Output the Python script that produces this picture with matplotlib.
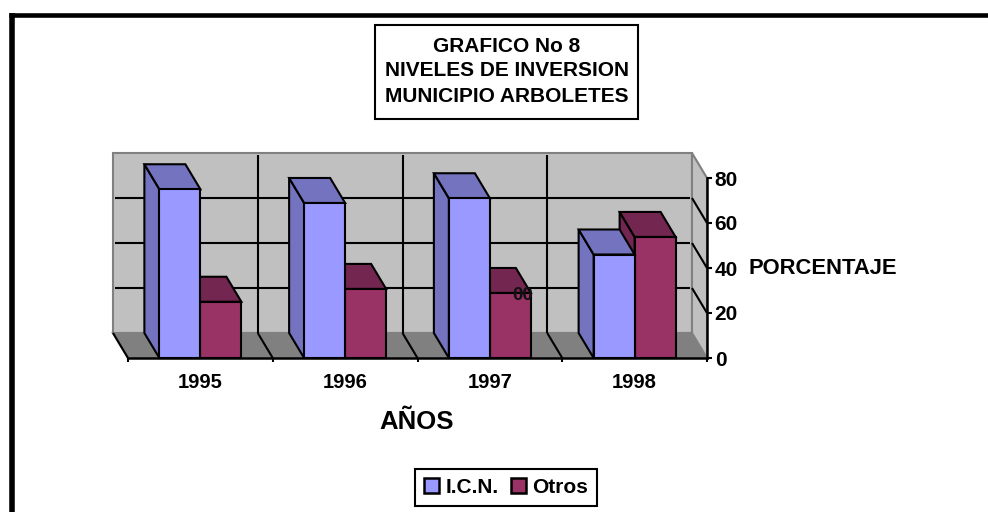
import matplotlib
matplotlib.use("Agg")
import matplotlib.pyplot as plt
from matplotlib.lines import Line2D
from matplotlib.patches import Polygon, Rectangle, Patch

plt.rcParams['font.family'] = ['Liberation Sans', 'DejaVu Sans']
plt.rcParams['font.weight'] = 'bold'

years = ['1995', '1996', '1997', '1998']
icn = [75, 68.9, 71, 46]
otros = [25, 30.7, 28.9, 53.8]
yticks = [0, 20, 40, 60, 80]

W, H = 988, 512
fig = plt.figure(figsize=(W / 100, H / 100), dpi=100, facecolor='white')


def fx(px):
    return px / W


def fy(py):
    return 1 - py / H


ax = fig.add_axes([fx(128), fy(358), fx(707) - fx(128), fy(178) - fy(358)])
ax.set_xlim(-0.5, 3.5)
ax.set_ylim(0, 80)
ax.patch.set_visible(False)

# depth of the 3-D box, in data units (15 px left, 25 px up)
DX = 15 / (579 / 4)
DY = 25 / (180 / 80)
LW = 1.5
BAR = 41 / (579 / 4)


def poly(pts, fc, ec='black', z=2, lw=LW):
    ax.add_patch(Polygon(pts, closed=True, facecolor=fc, edgecolor=ec, lw=lw,
                         zorder=z, clip_on=False, joinstyle='miter'))


def gline(xs, ys, z=1.5, color='black', lw=1.5):
    ax.add_line(Line2D(xs, ys, color=color, lw=lw, zorder=z, clip_on=False,
                       solid_capstyle='butt'))


x0, x1 = -0.5, 3.5
# back wall, floor, side wall
poly([(x0 - DX, DY), (x1 - DX, DY), (x1 - DX, 80 + DY), (x0 - DX, 80 + DY)],
     '#C0C0C0', ec='#808080', z=1)
poly([(x0 - DX, DY), (x1 - DX, DY), (x1, 0), (x0, 0)], '#808080', ec='#808080', z=1)
poly([(x1 - DX, DY), (x1, 0), (x1, 80), (x1 - DX, 80 + DY)],
     '#C0C0C0', ec='#808080', z=1)

for t in yticks[1:-1]:
    gline([x0 - DX + 0.012, x1 - DX - 0.012], [t + DY, t + DY])
    gline([x1 - DX, x1], [t + DY, t])
for b in range(1, 4):
    gline([x0 + b - DX, x0 + b - DX], [DY, 80 + DY - 0.8])
for b in range(0, 4):
    gline([x0 + b - DX, x0 + b], [DY, 0])


def bar3d(left, h, front, dark, z):
    ax.bar(left, h, width=BAR, align='edge', color=front, edgecolor='black',
           lw=LW, zorder=z + 0.2, clip_on=False)
    right = left + BAR
    poly([(left, 0), (left - DX, DY), (left - DX, h + DY), (left, h)], dark, z=z)
    poly([(left, h), (left - DX, h + DY), (right - DX, h + DY), (right, h)], dark, z=z + 0.1)


for i in range(len(years)):
    bar3d(i, otros[i], '#993366', '#732650', 2 + i)
    bar3d(i - BAR, icn[i], '#9999FF', '#7373BF', 2.5 + i)

ax.spines['top'].set_visible(False)
ax.spines['left'].set_visible(False)
for s in ('right', 'bottom'):
    ax.spines[s].set_linewidth(1.8)
    ax.spines[s].set_zorder(9)

ax.yaxis.tick_right()
ax.set_yticks(yticks)
ax.tick_params(axis='y', length=3.5, width=1.5, labelsize=15, pad=2)
ax.set_xticks(range(len(years)))
ax.set_xticklabels(years)
ax.set_xticks([x0 + b for b in range(5)], minor=True)
ax.tick_params(axis='x', which='major', length=0, labelsize=14.5, pad=10.5)
ax.tick_params(axis='x', which='minor', length=3, width=1.5)

ax.set_xlabel('AÑOS', fontsize=18.5, fontweight='bold')
ax.xaxis.set_label_coords((417 - 128) / 579, -(422 - 358) / 180, transform=ax.transAxes)
ax.xaxis.label.set_verticalalignment('center')
ax.yaxis.set_label_position('right')
ax.set_ylabel('PORCENTAJE', fontsize=15.8, fontweight='bold', rotation=0,
              ha='center', va='center', rotation_mode='default')
ax.yaxis.set_label_coords((823 - 128) / 579, (358 - 268) / 180)

ax.text(2.225, (358 - 295.5) / 2.25, '00', fontsize=13.5, ha='center', va='center',
        zorder=20, color='#101010')

# frame of the sheet
fig.add_artist(Line2D([fx(11.8), fx(11.8)], [fy(13), 0], color='black', lw=4.0,
                      solid_capstyle='butt'))
fig.add_artist(Line2D([fx(9), 1], [fy(15.3), fy(15.3)], color='black', lw=3.3,
                      solid_capstyle='butt'))

# title box
fig.add_artist(Rectangle((fx(375), fy(119)), fx(638) - fx(375), fy(25) - fy(119),
                         transform=fig.transFigure, fc='white', ec='black', lw=1.5))
for line, py in zip(['GRAFICO No 8', 'NIVELES DE INVERSION', 'MUNICIPIO ARBOLETES'],
                    [46, 71, 97]):
    fig.text(fx(507), fy(py), line, fontsize=15, ha='center', va='center')

# legend
leg = ax.legend(handles=[Patch(fc='#9999FF', ec='black', lw=1.8, label='I.C.N.'),
                         Patch(fc='#993366', ec='black', lw=1.8, label='Otros')],
                loc='center', bbox_to_anchor=((506 - 128) / 579, (358 - 487.5) / 180),
                ncol=2, fontsize=15, fancybox=False, framealpha=1, edgecolor='black',
                handlelength=0.72, handleheight=0.72, handletextpad=0.29,
                columnspacing=0.58, borderpad=0.43, borderaxespad=0)
leg.get_frame().set_linewidth(1.5)

fig.savefig('out.png', dpi=100, facecolor='white')
